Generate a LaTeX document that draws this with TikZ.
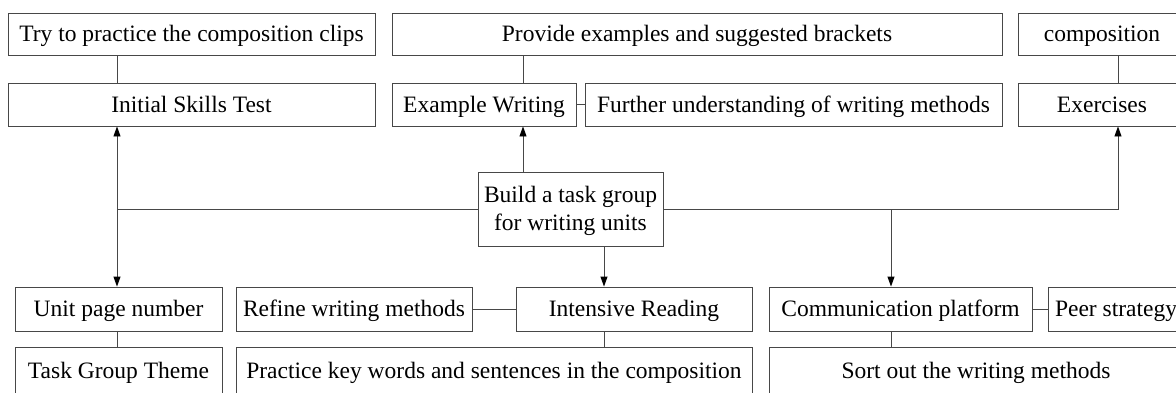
\documentclass[tikz,border=0pt]{standalone}
\usepackage{fontspec}
\setmainfont{Liberation Serif}
\usetikzlibrary{arrows.meta}
\begin{document}
\begin{tikzpicture}[x=1pt,y=-1pt,
  box/.style={draw=black!72, line width=0.9pt, inner sep=0pt, anchor=center,
    minimum height=#1, font=\fontsize{23.5}{28}\selectfont, align=center,
    text height=15.5pt, text depth=0.5pt},
  box/.default=43,
  link/.style={draw=black!72, line width=0.9pt},
  arr/.style={link, -{Triangle[length=10pt,width=7pt,color=black]}}]
\useasboundingbox (0,0) rectangle (1176,392);
\clip (0,0) rectangle (1176,392);
% top row
\node[box=42, minimum width=367] (A) at (191.5,34) {Try to practice the composition clips};
\node[box=42, minimum width=610] (B) at (697,34) {Provide examples and suggested brackets};
\node[box=42, minimum width=168] (Cm) at (1102,34) {composition};
% second row
\node[box, minimum width=367] (IST) at (191.5,104.5) {Initial Skills Test};
\node[box, minimum width=184] (EW) at (484,104.5) {Example Writing};
\node[box, minimum width=417] (FU) at (793.5,104.5) {Further understanding of writing methods};
\node[box, minimum width=168] (EX) at (1102,104.5) {Exercises};
% center
\node[box=74, minimum width=185, text height=43.5pt, text depth=0.5pt] (C) at (570.5,209) {Build a task group\\for writing units};
% fourth row
\node[box=44, minimum width=207] (UPN) at (118.5,309) {Unit page number};
\node[box=44, minimum width=236] (RW) at (354,309) {Refine writing methods};
\node[box=44, minimum width=236] (IR) at (634,309) {Intensive Reading};
\node[box=44, minimum width=263] (CP) at (900.5,309) {Communication platform};
\node[box=44, minimum width=136] (PS) at (1116,309) {Peer strategy};
% bottom row
\node[box=47, minimum width=207] (TGT) at (118.5,370.5) {Task Group Theme};
\node[box=47, minimum width=516] (PK) at (494,370.5) {Practice key words and sentences in the composition};
\node[box=47, minimum width=414] (SO) at (976,370.5) {Sort out the writing methods};
% guide coordinates
\coordinate (X1) at (117,0);
\coordinate (X2) at (523,0);
\coordinate (X3) at (604,0);
\coordinate (X4) at (891,0);
\coordinate (X5) at (1118,0);
\coordinate (J1) at (117,209);
% plain connectors
\draw[link] (A.south -| X1) -- (IST.north -| X1);
\draw[link] (B.south -| X2) -- (EW.north -| X2);
\draw[link] (Cm.south -| X5) -- (EX.north -| X5);
\draw[link] (EW.east) -- (FU.west);
\draw[link] (RW.east) -- (IR.west);
\draw[link] (CP.east) -- (PS.west);
\draw[link] (UPN.south -| X1) -- (TGT.north -| X1);
\draw[link] (IR.south -| X3) -- (PK.north -| X3);
\draw[link] (CP.south -| X4) -- (SO.north -| X4);
% arrows from center
\draw[link] (C.west) -- (J1);
\draw[arr] (J1) -- (IST.south -| X1);
\draw[arr] (J1) -- (UPN.north -| X1);
\draw[arr] (C.north -| X2) -- (EW.south -| X2);
\draw[arr] (C.south -| X3) -- (IR.north -| X3);
\draw[arr] (C.east) -| (EX.south -| X5);
\draw[arr] (C.east -| X4) -- (CP.north -| X4);
\end{tikzpicture}
\end{document}
